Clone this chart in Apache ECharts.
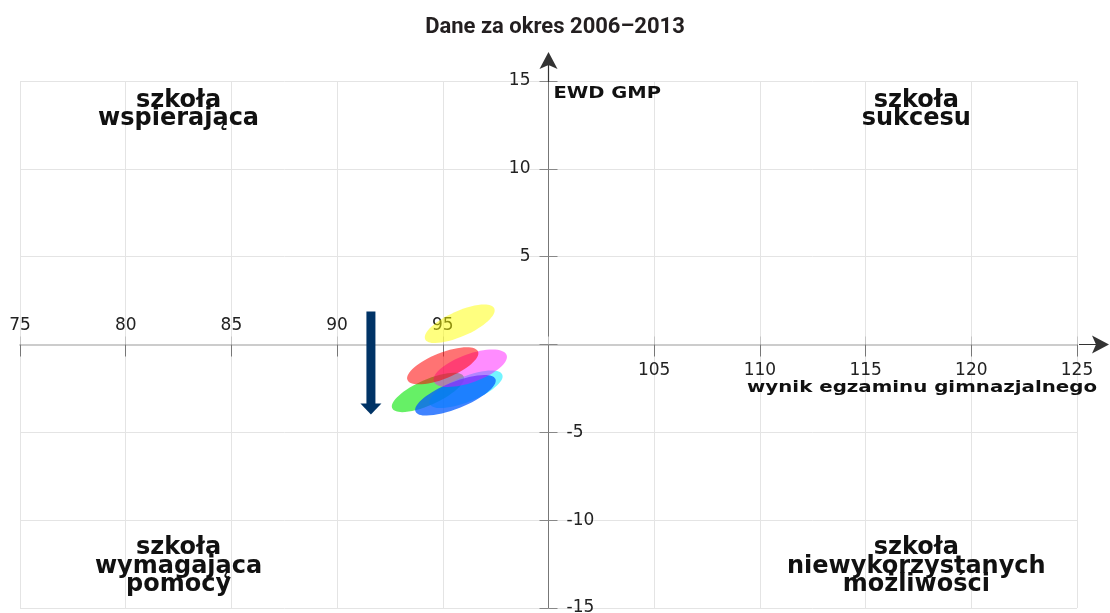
<!DOCTYPE html>
<html>
<head>
<meta charset="utf-8">
<script src="https://cdn.jsdelivr.net/npm/echarts@6/dist/echarts.min.js"></script>
<style>
  html, body { margin: 0; padding: 0; background: #fff; }
  #chart { width: 1110px; height: 613px; }
</style>
</head>
<body>
<div id="chart"></div>
<script>
// elipsy EWD: srodek (wynik egzaminu, EWD), polosie w punktach skali, kat nachylenia
const ellipseX = [95.8, 94.3, 96.1, 95.6, 96.3, 95.0];
const ellipseY = [1.18, -2.73, -2.55, -2.89, -1.35, -1.21];
const ellipseA = [1.79, 1.85, 1.85, 2.04, 1.83, 1.80];
const ellipseB = [0.60, 0.60, 0.60, 0.63, 0.67, 0.61];
const ellipseAngle = [24, 24, 22, 22, 20, 22];
const ellipseColors = [
  'rgba(255,255,0,0.5)',
  'rgba(0,230,0,0.6)',
  'rgba(0,235,255,0.55)',
  'rgba(0,90,255,0.75)',
  'rgba(255,0,255,0.45)',
  'rgba(255,0,0,0.55)'
];

// strzalka trendu
const trendArrowX = 91.6;
const trendArrowY = [1.88, -3.98];

const quadrantText = [
  'szkoła\nwspierająca',
  'szkoła\nsukcesu',
  'szkoła\nwymagająca\npomocy',
  'szkoła\nniewykorzystanych\nmożliwości'
];

const CROSS_X = 100; // os Y przecina os X w punkcie (100, 0)
const CROSS_Y = 0;
const arrowPath = 'path://M9,0L18,17L9,13L0,17ZM8.4,13L9.6,13L9.6,30L8.4,30Z';
const labelFont = { fontFamily: 'DejaVu Sans', fontSize: 17, color: '#222' };

const chart = echarts.init(document.getElementById('chart'));

const option = {
  animation: false,
  title: {
    text: 'Dane za okres 2006–2013',
    left: 'center',
    top: 11,
    textStyle: { fontFamily: 'Roboto', fontWeight: 'bold', fontSize: 22, color: '#231f20' }
  },
  grid: { left: 20, right: 33, top: 81, bottom: 5, containLabel: false, outerBoundsMode: 'none' },
  xAxis: [
    {
      type: 'value', position: 'top', min: 75, max: 125, interval: 5,
      axisLine: { onZero: false, symbol: ['none', arrowPath], symbolSize: [18, 30], symbolOffset: [0, 17],
        lineStyle: { color: '#333', width: 0 } },
      axisTick: { show: true, length: 8, lineStyle: { color: '#c4c4c4' } },
      axisLabel: Object.assign({ margin: 10, formatter: v => (v < CROSS_X ? String(v) : '') }, labelFont),
      splitLine: { show: false }
    },
    {
      type: 'value', position: 'bottom', min: 75, max: 125, interval: 5,
      axisLine: { onZero: false, lineStyle: { color: '#cccccc', width: 2 } },
      axisTick: { show: true, length: 12, lineStyle: { color: '#777' } },
      axisLabel: Object.assign({ margin: 18, formatter: v => (v > CROSS_X ? String(v) : '') }, labelFont),
      splitLine: { show: true, lineStyle: { color: '#e4e4e4', width: 1 } }
    }
  ],
  yAxis: [
    {
      type: 'value', position: 'left', min: -15, max: 15, interval: 5,
      axisLine: { onZero: false, lineStyle: { color: '#777', width: 1 } },
      axisTick: { show: true, length: 9, lineStyle: { color: '#888' } },
      axisLabel: Object.assign({ margin: 18, formatter: v => (v > CROSS_Y ? String(v) : '') }, labelFont),
      splitLine: { show: true, lineStyle: { color: '#e4e4e4', width: 1 } }
    },
    {
      type: 'value', position: 'right', min: -15, max: 15, interval: 5,
      axisLine: { onZero: false, symbol: ['none', arrowPath], symbolSize: [18, 30], symbolOffset: [0, 14],
        lineStyle: { color: '#333', width: 0 } },
      axisTick: { show: true, length: 9, lineStyle: { color: '#888' } },
      axisLabel: Object.assign({ margin: 18, formatter: v => (v < CROSS_Y ? String(v) : '') }, labelFont),
      splitLine: { show: false }
    }
  ],
  series: [
    {
      type: 'custom',
      xAxisIndex: 0,
      yAxisIndex: 0,
      silent: true,
      data: ellipseX.map((x, i) => [x, ellipseY[i], ellipseA[i], ellipseB[i], ellipseAngle[i]]),
      renderItem: function (params, api) {
        const c = api.coord([api.value(0), api.value(1)]);
        const a = api.size([api.value(2), 0])[0];
        const b = api.size([api.value(3), 0])[0];
        return {
          type: 'ellipse',
          x: c[0],
          y: c[1],
          rotation: api.value(4) * Math.PI / 180,
          shape: { cx: 0, cy: 0, rx: a, ry: b },
          style: { fill: ellipseColors[params.dataIndex] }
        };
      }
    },
    {
      type: 'custom',
      xAxisIndex: 0,
      yAxisIndex: 0,
      silent: true,
      data: [[trendArrowX, trendArrowY[0], trendArrowY[1]]],
      renderItem: function (params, api) {
        const p0 = api.coord([api.value(0), api.value(1)]);
        const p1 = api.coord([api.value(0), api.value(2)]);
        const headH = 11, headW = 21;
        return {
          type: 'group',
          children: [
            {
              type: 'line',
              shape: { x1: p0[0], y1: p0[1], x2: p1[0], y2: p1[1] - headH + 1 },
              style: { stroke: '#003366', lineWidth: 9 }
            },
            {
              type: 'polygon',
              shape: { points: [[p1[0] - headW / 2, p1[1] - headH], [p1[0] + headW / 2, p1[1] - headH], [p1[0], p1[1]]] },
              style: { fill: '#003366' }
            }
          ]
        };
      }
    }
  ]
};

chart.setOption(option);

// osie przesuwamy tak, zeby przecinaly sie w punkcie (100, 0)
const px = (x, y) => chart.convertToPixel({ xAxisIndex: 0, yAxisIndex: 0 }, [x, y]);
const cross = px(CROSS_X, CROSS_Y);
const topLeft = px(75, 15);
const bottomRight = px(125, -15);
chart.setOption({
  xAxis: [{ offset: -(cross[1] - topLeft[1]) }, { offset: -(bottomRight[1] - cross[1]) }],
  yAxis: [{ offset: -(cross[0] - topLeft[0]) }, { offset: -(bottomRight[0] - cross[0]) }]
});

// teksty opisowe zakotwiczone w ukladzie wspolrzednych
const quadrantAnchor = [[82.5, 13.35], [117.4, 13.35], [82.5, -12.63], [117.4, -12.63]];
const graphics = quadrantText.map((t, i) => {
  const p = px(quadrantAnchor[i][0], quadrantAnchor[i][1]);
  return {
    type: 'text', x: p[0], y: p[1], silent: true,
    style: { text: t, font: 'bold 24px "DejaVu Sans"', fill: '#111', align: 'center', verticalAlign: 'middle', lineHeight: 18.5 }
  };
});
const yTop = px(CROSS_X, 15);
graphics.push({
  type: 'text', x: yTop[0] + 5, y: yTop[1] + 13.5, scaleX: 1.3, silent: true,
  style: { text: 'EWD GMP', font: 'bold 15px "DejaVu Sans"', fill: '#111', align: 'left', verticalAlign: 'middle' }
});
const xEnd = px(125, CROSS_Y);
graphics.push({
  type: 'text', x: xEnd[0] + 20, y: xEnd[1] + 44, scaleX: 1.32, silent: true,
  style: { text: 'wynik egzaminu gimnazjalnego', font: 'bold 15px "DejaVu Sans"', fill: '#111', align: 'right', verticalAlign: 'middle' }
});
chart.setOption({ graphic: graphics });
</script>
</body>
</html>
